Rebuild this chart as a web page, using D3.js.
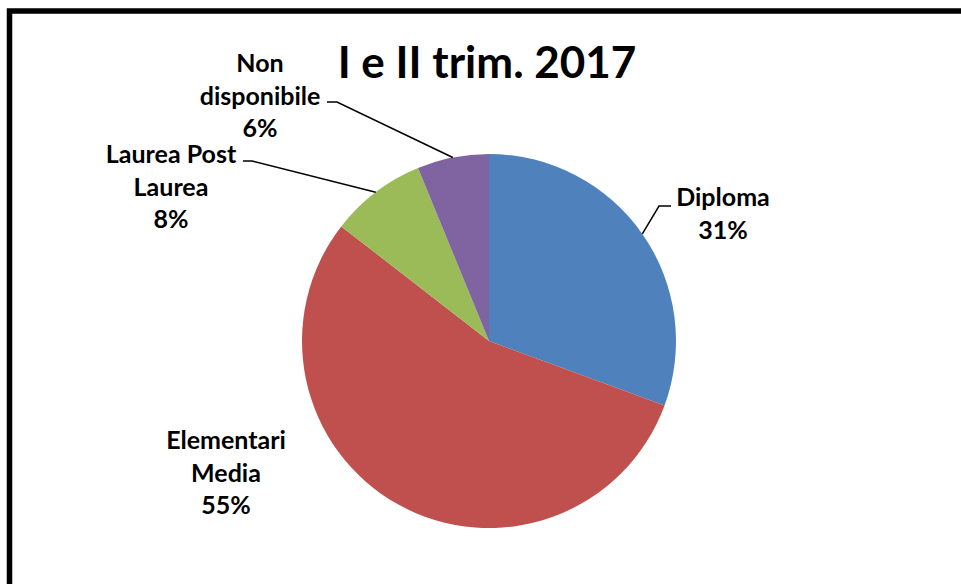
<!DOCTYPE html>
<meta charset="utf-8">
<style>
body { margin: 0; background: #fff; }
text { font-family: Lato, "Open Sans", sans-serif; font-weight: bold; fill: #000; }
.title { font-size: 44px; }
.label { font-size: 25px; }
.leader { fill: none; stroke: #000; stroke-width: 1.5px; }
</style>
<svg width="961" height="584"></svg>
<script src="https://d3js.org/d3.v7.min.js"></script>
<script>

// data (percent)
var categories = ["Diploma", "Elementari Media", "Laurea Post Laurea", "Non disponibile"];
var values = [30.6, 54.9, 8.3, 6.2];
var labelLines = [["Diploma"], ["Elementari", "Media"], ["Laurea Post", "Laurea"], ["Non", "disponibile"]];
var pctLabels = ["31%", "55%", "8%", "6%"];
var colors = ["#4F81BD", "#C0504D", "#9BBB59", "#8064A2"];

var svg = d3.select("svg"),
    cx = 489, cy = 341, radius = 187;

// chart frame (runs off the right and bottom of the picture)
svg.append("rect")
    .attr("x", 9.5).attr("y", 11)
    .attr("width", 1000).attr("height", 600)
    .attr("fill", "none")
    .attr("stroke", "#000")
    .attr("stroke-width", 5.5);

svg.append("text")
    .attr("class", "title")
    .attr("x", 487).attr("y", 78)
    .attr("text-anchor", "middle")
    .text("I e II trim. 2017");

var data = categories.map(function(c, i) {
  return {name: c, value: values[i], lines: labelLines[i].concat([pctLabels[i]]), color: colors[i]};
});

var pie = d3.pie().sort(null).value(function(d) { return d.value; });
var arc = d3.arc().innerRadius(0).outerRadius(radius);

var g = svg.append("g").attr("transform", "translate(" + cx + "," + cy + ")");

var arcs = pie(data);

g.selectAll("path.slice")
  .data(arcs)
  .enter().append("path")
    .attr("class", "slice")
    .attr("fill", function(d) { return d.data.color; })
    .attr("d", arc);

// label placement relative to pie center: text center x, first baseline y,
// and elbow/end of leader line (null = no leader)
var labelLayout = [
  {x: 234, y: -135, elbow: [170, -135], end: [182, -135]},
  {x: -263, y: 108, elbow: null},
  {x: -318, y: -178, elbow: [-237, -180], end: [-246, -180]},
  {x: -229, y: -269, elbow: [-152, -239], end: [-162, -239]}
];
var lineH = 32.5;

arcs.forEach(function(a, i) {
  var L = labelLayout[i];
  if (L.elbow) {
    var mid = (a.startAngle + a.endAngle) / 2;
    var p0 = [radius * Math.sin(mid), -radius * Math.cos(mid)];
    g.append("path")
      .attr("class", "leader")
      .attr("d", d3.line()([p0, L.elbow, L.end]));
  }
  var t = g.append("text")
      .attr("class", "label")
      .attr("text-anchor", "middle");
  a.data.lines.forEach(function(s, k) {
    t.append("tspan")
      .attr("x", L.x)
      .attr("y", L.y + k * lineH)
      .text(s);
  });
});

</script>
